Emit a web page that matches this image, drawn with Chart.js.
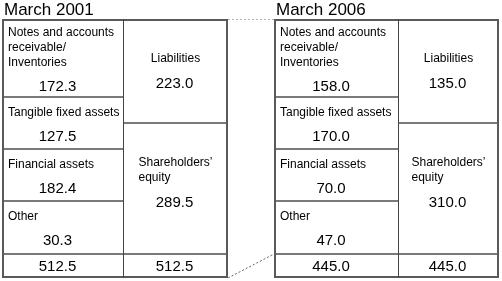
<!DOCTYPE html>
<html>
<head>
<meta charset="utf-8">
<title>Balance sheet comparison</title>
<script src="https://cdn.jsdelivr.net/npm/chart.js@4.4.1/dist/chart.umd.min.js"></script>
<style>
  html, body { margin: 0; padding: 0; background: #fff; }
  canvas { display: block; }
</style>
</head>
<body>
<canvas id="balanceChart" width="502" height="281"></canvas>
<script>
// ---- data ----
const periods = ['March 2001', 'March 2006'];
const assetItems = [
    ['Notes and accounts', 'receivable/', 'Inventories'],
    ['Tangible fixed assets'],
    ['Financial assets'],
    ['Other']
];
const claimItems = [
    ['Liabilities'],
    ['Shareholders\u2019', 'equity']
];
const assets2001 = [172.3, 127.5, 182.4, 30.3];
const assets2006 = [158.0, 170.0, 70.0, 47.0];
const claims2001 = [223.0, 289.5];
const claims2006 = [135.0, 310.0];
const totals = [512.5, 445.0];

// ---- diagram geometry (chart-area units, 1 unit = 1 px) ----
const ROWS_ASSETS = [0, 78, 130, 182, 235, 259];   // 4 items + total row
const ROWS_CLAIMS = [0, 104, 235, 259];            // 2 items + total row
const PANEL_X = [[0, 121, 226], [272, 396, 497]];  // left edge, divider, right edge

const LINE_COLOR = '#7a7a7a';
const DIVIDER_COLOR = '#444';
const FRAME_COLOR = '#5a5a5a';
const LABEL_FONT = '12px "Liberation Sans", Arial, sans-serif';
const VALUE_FONT = '15px "Liberation Sans", Arial, sans-serif';
const TITLE_FONT = '17px "Liberation Sans", Arial, sans-serif';

/**
 * Builds one column of boxes as a floating bar dataset.
 */
function columnDataset(left, right, rows, labels, values, total, textOpts, sideBorders) {
    const center = (left + right) / 2;
    const data = [];
    const texts = [];
    for (let i = 0; i < rows.length - 1; i++) {
        data.push({ x: center, y: [rows[i], rows[i + 1]] });
        if (i < values.length) {
            texts.push({ lines: labels[i], value: values[i] });
        } else {
            texts.push({ lines: [], value: total });
        }
    }
    return Object.assign({
        type: 'bar',
        data: data,
        texts: texts,
        stack: 'all',
        order: 1,
        barThickness: right - left,
        backgroundColor: '#fff',
        borderColor: LINE_COLOR,
        borderWidth: sideBorders,
        borderSkipped: false,
        inflateAmount: 0
    }, textOpts);
}

function frameDataset(left, right, width, color, order) {
    return {
        type: 'bar',
        data: [{ x: (left + right) / 2, y: [0, 259] }],
        stack: 'all',
        order: order,
        barThickness: right - left,
        backgroundColor: 'rgba(0,0,0,0)',
        borderColor: color,
        borderWidth: width,
        borderSkipped: false,
        inflateAmount: 0
    };
}

const panelData = [
    { assets: assets2001, claims: claims2001, total: totals[0] },
    { assets: assets2006, claims: claims2006, total: totals[1] }
];

const datasets = [];
panelData.forEach((p, idx) => {
    const [l, d, r] = PANEL_X[idx];
    datasets.push(columnDataset(l, d, ROWS_ASSETS, assetItems, p.assets, p.total,
        { textAlign: 'left', textInset: 6, textAnchor: 'center', valueShift: -5 },
        { top: 1, bottom: 1, left: 0, right: 0 }));
    datasets.push(columnDataset(d, r, ROWS_CLAIMS, claimItems, p.claims, p.total,
        { textAlign: 'block', textAnchor: 40, valueShift: -1 },
        { top: 1, bottom: 1, left: 0, right: 0 }));
    // thin dark divider between assets and claims, then the outer frame
    datasets.push(frameDataset(d, r, { left: 1, top: 0, right: 0, bottom: 0 }, DIVIDER_COLOR, 0));
    datasets.push(frameDataset(l, r, 2, FRAME_COLOR, 0));
});

// dotted connectors between the two sheets
datasets.push({
    type: 'line',
    data: [{ x: PANEL_X[0][2], y: 0 }, { x: PANEL_X[1][0], y: 0 }],
    borderColor: '#666', borderWidth: 1, borderDash: [2, 2], pointRadius: 0, order: 2
});
datasets.push({
    type: 'line',
    data: [{ x: PANEL_X[0][2], y: ROWS_ASSETS[5] }, { x: PANEL_X[1][0], y: ROWS_ASSETS[4] }],
    borderColor: '#666', borderWidth: 1, borderDash: [2, 2], pointRadius: 0, order: 2
});

// labels and values inside the boxes, plus the period titles
const boxTextPlugin = {
    id: 'boxText',
    afterDatasetsDraw(chart) {
        const ctx = chart.ctx;
        const lineH = 15, gap = 24.5;
        ctx.save();
        ctx.fillStyle = '#000';
        ctx.textBaseline = 'middle';
        chart.data.datasets.forEach((ds, di) => {
            if (!ds.texts) return;
            const meta = chart.getDatasetMeta(di);
            meta.data.forEach((bar, i) => {
                const t = ds.texts[i];
                const { x, y, base, width } = bar.getProps(['x', 'y', 'base', 'width'], true);
                const top = Math.min(y, base), bottom = Math.max(y, base);
                const left = x - width / 2;
                const n = t.lines.length;
                let valueY;
                if (n === 0) {
                    valueY = (top + bottom) / 2 + 1;
                } else {
                    const blockH = (n - 1) * lineH + gap;
                    const y0 = ds.textAnchor === 'center'
                        ? (top + bottom) / 2 - blockH / 2 + 1.5
                        : top + ds.textAnchor;
                    ctx.font = LABEL_FONT;
                    let lx;
                    if (ds.textAlign === 'left') {
                        lx = left + ds.textInset;
                        ctx.textAlign = 'left';
                    } else if (n === 1) {
                        lx = x;
                        ctx.textAlign = 'center';
                    } else {
                        const w = Math.max(...t.lines.map(s => ctx.measureText(s).width));
                        lx = x - w / 2;
                        ctx.textAlign = 'left';
                    }
                    t.lines.forEach((s, k) => ctx.fillText(s, lx, y0 + k * lineH));
                    valueY = y0 + (n - 1) * lineH + gap;
                }
                ctx.font = VALUE_FONT;
                ctx.textAlign = 'center';
                ctx.fillText(t.value.toFixed(1), x + ds.valueShift, valueY);
            });
        });

        // period titles above each sheet
        const xs = chart.scales.x;
        ctx.font = TITLE_FONT;
        ctx.textAlign = 'left';
        ctx.textBaseline = 'alphabetic';
        periods.forEach((p, idx) => {
            ctx.fillText(p, xs.getPixelForValue(PANEL_X[idx][0]) + 2, 15);
        });
        ctx.restore();
    }
};

new Chart(document.getElementById('balanceChart'), {
    type: 'bar',
    data: { datasets: datasets },
    options: {
        responsive: false,
        animation: false,
        events: [],
        layout: { padding: { top: 19, bottom: 3, left: 2, right: 2 } },
        scales: {
            x: { type: 'linear', min: 0, max: 498, offset: false, display: false },
            y: { type: 'linear', min: 0, max: 259, reverse: true, stacked: false, display: false }
        },
        plugins: {
            legend: { display: false },
            tooltip: { enabled: false }
        }
    },
    plugins: [boxTextPlugin]
});
</script>
</body>
</html>
